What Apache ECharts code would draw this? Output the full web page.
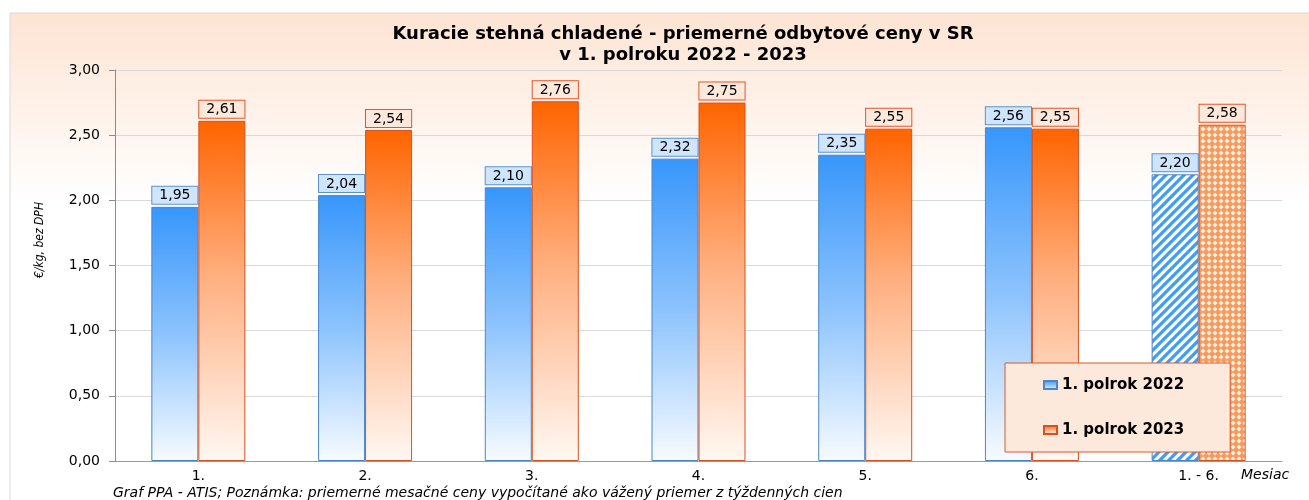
<!DOCTYPE html>
<html>
<head>
<meta charset="utf-8">
<script src="https://cdn.jsdelivr.net/npm/echarts@6/dist/echarts.min.js"></script>
<style>
  html, body { margin: 0; padding: 0; background: #fff; }
  #chart { width: 1309px; height: 500px; }
</style>
</head>
<body>
<div id="chart"></div>
<script>
// data
const months = ['1.', '2.', '3.', '4.', '5.', '6.', '1. - 6.'];
const h2022 = [1.95, 2.04, 2.10, 2.32, 2.35, 2.56, 2.20];
const h2023 = [2.61, 2.54, 2.76, 2.75, 2.55, 2.55, 2.58];
const seriesNames = ['1. polrok 2022', '1. polrok 2023'];

const FONT = 'DejaVu Sans';
const fmt = v => Number(v).toFixed(2).replace('.', ',');

// hatch pattern for the half-year average 2022 (blue diagonal stripes)
function stripes() {
  const c = document.createElement('canvas');
  c.width = 9; c.height = 9;
  const g = c.getContext('2d');
  g.fillStyle = '#ffffff';
  g.fillRect(0, 0, 9, 9);
  g.strokeStyle = '#3f9cf7';
  g.lineWidth = 3.2;
  g.beginPath();
  g.moveTo(-2, 11); g.lineTo(11, -2);
  g.moveTo(-7, 7); g.lineTo(7, -7);
  g.moveTo(2, 16); g.lineTo(16, 2);
  g.stroke();
  return c;
}
// lattice pattern for the half-year average 2023 (orange)
function lattice() {
  const c = document.createElement('canvas');
  c.width = 6; c.height = 6;
  const g = c.getContext('2d');
  g.fillStyle = '#f79a5c';
  g.fillRect(0, 0, 6, 6);
  g.fillStyle = '#fff0e4';
  g.beginPath();
  g.moveTo(3, 0.5); g.lineTo(5.5, 3); g.lineTo(3, 5.5); g.lineTo(0.5, 3); g.closePath();
  g.fill();
  return c;
}

const blueGrad = new echarts.graphic.LinearGradient(0, 0, 0, 1, [
  { offset: 0, color: '#3796fb' },
  { offset: 0.5, color: '#8cc3fd' },
  { offset: 1, color: '#f7fbff' }
]);
const orangeGrad = new echarts.graphic.LinearGradient(0, 0, 0, 1, [
  { offset: 0, color: '#ff6400' },
  { offset: 0.45, color: '#ffae7e' },
  { offset: 1, color: '#fff8f3' }
]);

function barData(values, lastFill) {
  return values.map((v, i) => i === values.length - 1
    ? { value: v, itemStyle: { color: { image: lastFill, repeat: 'repeat' } } }
    : v);
}

const chart = echarts.init(document.getElementById('chart'));
chart.setOption({
  animation: false,
  graphic: [
    {
      type: 'rect', z: -10, silent: true,
      shape: { x: 10, y: 13, width: 1310, height: 500 },
      style: {
        fill: new echarts.graphic.LinearGradient(0, 0, 0, 1, [
          { offset: 0, color: '#fde4d3' },
          { offset: 0.38, color: '#ffffff' },
          { offset: 1, color: '#ffffff' }
        ]),
        stroke: '#d9d9d9', lineWidth: 1
      }
    },
    {
      type: 'text', x: 40, y: 240, rotation: Math.PI / 2,
      style: {
        text: '€/kg, bez DPH', fill: '#000',
        font: 'italic 12px "DejaVu Sans Condensed"',
        textAlign: 'center', textVerticalAlign: 'middle'
      }
    },
    {
      type: 'text', x: 1241, y: 475,
      style: {
        text: 'Mesiac', fill: '#000', font: 'italic 14px "DejaVu Sans"',
        textAlign: 'left', textVerticalAlign: 'middle'
      }
    },
    {
      type: 'text', x: 113, y: 493,
      style: {
        text: 'Graf PPA - ATIS; Poznámka: priemerné mesačné ceny vypočítané ako vážený priemer z týždenných cien',
        fill: '#000', font: 'italic 14px "DejaVu Sans"',
        textAlign: 'left', textVerticalAlign: 'middle'
      }
    }
  ],
  title: {
    text: 'Kuracie stehná chladené - priemerné odbytové ceny v SR\nv 1. polroku 2022 - 2023',
    left: 678, top: 19, textAlign: 'center',
    textStyle: { fontFamily: FONT, fontWeight: 'bold', fontSize: 18, lineHeight: 21, color: '#000' }
  },
  legend: {
    orient: 'vertical',
    left: 1005, top: 363,
    backgroundColor: '#fde9dc',
    borderColor: '#e0572b', borderWidth: 1,
    padding: [14, 46, 14, 38],
    icon: 'rect',
    itemWidth: 13, itemHeight: 8, itemGap: 29,
    textStyle: { fontFamily: FONT, fontWeight: 'bold', fontSize: 15, lineHeight: 16, color: '#000' },
    data: seriesNames
  },
  grid: { left: 115, right: 27, top: 70, bottom: 39 },
  xAxis: {
    type: 'category',
    data: months,
    axisLine: { lineStyle: { color: '#9a9a9a' } },
    axisTick: { show: false },
    axisLabel: { fontFamily: FONT, fontSize: 14, color: '#000', margin: 8 }
  },
  yAxis: {
    type: 'value', min: 0, max: 3, interval: 0.5,
    axisLine: { show: true, lineStyle: { color: '#8c8c8c' } },
    axisTick: { show: true, length: 6, lineStyle: { color: '#8c8c8c' } },
    splitLine: { lineStyle: { color: '#d9d9d9' } },
    axisLabel: { fontFamily: FONT, fontSize: 14, color: '#000', margin: 15, formatter: fmt }
  },
  series: [
    {
      name: seriesNames[0], type: 'bar', barWidth: 47, barGap: '0%',
      itemStyle: { color: blueGrad, borderColor: '#4a86c8', borderWidth: 1 },
      label: {
        show: true, position: 'top', distance: 3,
        formatter: p => fmt(p.value),
        fontFamily: FONT, fontSize: 14, color: '#000',
        backgroundColor: '#cfe5fc', borderColor: '#5a92d2', borderWidth: 1,
        padding: [2, 7, 1, 7]
      },
      data: barData(h2022, stripes())
    },
    {
      name: seriesNames[1], type: 'bar', barWidth: 47, barGap: '0%',
      itemStyle: { color: orangeGrad, borderColor: '#d9501e', borderWidth: 1 },
      label: {
        show: true, position: 'top', distance: 3,
        formatter: p => fmt(p.value),
        fontFamily: FONT, fontSize: 14, color: '#000',
        backgroundColor: '#fde9dc', borderColor: '#e0572b', borderWidth: 1,
        padding: [2, 7, 1, 7]
      },
      data: barData(h2023, lattice())
    }
  ]
});
</script>
</body>
</html>
